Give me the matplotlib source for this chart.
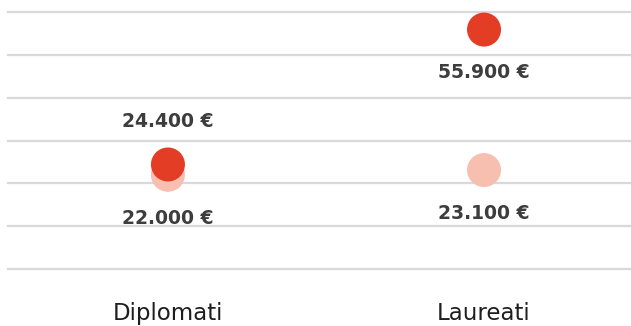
import matplotlib.pyplot as plt

categories = ["Diplomati", "Laureati"]
light_values = [22000, 23100]
red_values = [24400, 55900]
# which side of the red dot its label goes on (+1 above, -1 below)
red_label_side = [1, -1]

def fmt(v):
    return f"{v:,.0f} €".replace(",", ".")

fig = plt.figure(figsize=(6.31, 3.26), dpi=100)
ax = fig.add_axes([8 / 631, 1 - 269 / 326, 623 / 631, 257 / 326])

x = list(range(len(categories)))
ax.set_xlim(-0.506, 1.465)
ax.set_ylim(0, 60000)

for y in range(0, 60001, 10000):
    ax.axhline(y, color="#d9d9d9", lw=1.6, zorder=0, clip_on=False)

ax.scatter(x, light_values, s=600, color="#f6bfb0", edgecolors="none", zorder=2)
ax.scatter(x, red_values, s=600, color="#e43d25", edgecolors="none", zorder=3)

label_style = dict(textcoords="offset points", ha="center", va="center",
                   fontsize=13.5, fontweight="bold", color="#3d3d3d",
                   family="DejaVu Sans")
for xi, v in zip(x, light_values):
    ax.annotate(fmt(v), (xi, v), xytext=(0, -31.5), **label_style)
for xi, v, side in zip(x, red_values, red_label_side):
    ax.annotate(fmt(v), (xi, v), xytext=(0, 31 * side), **label_style)

for xi, c in zip(x, categories):
    ax.text(xi, -10400, c, ha="center", va="center", fontsize=16.5,
            color="#1e1e1e", family="DejaVu Sans")

ax.axis("off")
fig.savefig("out.png", dpi=100)
